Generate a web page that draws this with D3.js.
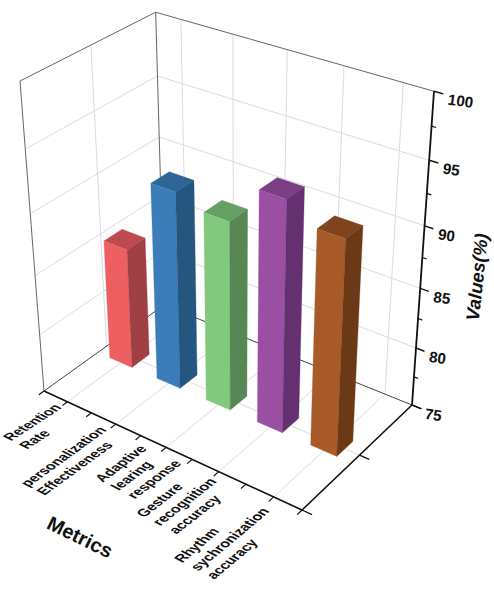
<!DOCTYPE html>
<html><head><meta charset="utf-8"><script src="https://cdn.jsdelivr.net/npm/d3@7"></script>
<style>html,body{margin:0;background:#fff}text{font-family:"Liberation Sans",Arial,sans-serif;font-weight:bold;fill:#111}</style></head><body><svg id="c" width="494" height="594"></svg>
<script>
const categories=["Retention Rate","personalization Effectiveness","Adaptive learing response","Gesture recognition accuracy","Rhythm sychronization accuracy"];
const categoryLines=[["Retention","Rate"],["personalization","Effectiveness"],["Adaptive","learing","response"],["Gesture","recognition","accuracy"],["Rhythm","sychronization","accuracy"]];
const values=[85.3,91.5,90.7,93.9,92.5];
const valueTicks=[75,80,85,90,95,100];
const minorValueTicks=[77.5,82.5,87.5,92.5,97.5];
const frontColors=["#EE5F62","#3A7DB8","#83C87F","#9A4FA3","#A85A28"];
const sideColors=["#A03F44","#24567F","#568755","#64306F","#6C3917"];
const topColors=["#BC4A50","#2C6596","#649F63","#7B3F85","#7F431D"];
const O=[44,391],Ex=[302,510],Ey=[164,305],F=[412,405],Ez=[20,81],T=[434,94];
const a=[Ex[0]-F[0],Ey[0]-F[0],O[0]-F[0]],b=[Ex[1]-F[1],Ey[1]-F[1],O[1]-F[1]];
const det=a[0]*b[1]-a[1]*b[0];
const wx=(a[2]*b[1]-a[1]*b[2])/det, wy=(a[0]*b[2]-a[2]*b[0])/det;
const wz=(F[0]*(wx+wy-1)-O[0]-T[0]*(wx+wy-2))/(T[0]-Ez[0]);
function P(u,v,z){const d=1+u*(wx-1)+v*(wy-1)+z*(wz-1);
 return [0,1].map(i=>(O[i]+u*(wx*Ex[i]-O[i])+v*(wy*Ey[i]-O[i])+z*(wz*Ez[i]-O[i]))/d);}
const svg=d3.select('#c');
const line=d3.line();
const zs=d3.scaleLinear().domain([75,100]).range([0,1]);
const us=d3.scaleBand().domain(categories).range([0,1]).paddingInner(0.525).paddingOuter(0.2625);
const seg=(pts,stroke,w)=>svg.append('path').attr('d',line(pts)).attr('fill','none').attr('stroke',stroke).attr('stroke-width',w);
const gridC='#dcdcdc';
valueTicks.slice(1,-1).forEach(t=>{const z=zs(t);seg([P(0,0,z),P(0,1,z),P(1,1,z)],gridC,1);});
categories.forEach(c=>{const u=us(c)+us.bandwidth()/2;seg([P(u,0,0),P(u,1,0),P(u,1,1)],gridC,1);});
seg([P(0,.5,1),P(0,.5,0),P(1,.5,0)],gridC,1);
seg([P(0,0,0),P(0,0,1),P(0,1,1),P(1,1,1)],'#666',1);
seg([P(0,1,1),P(0,1,0)],'#666',1);
seg([P(0,0,0),P(0,1,0),P(1,1,0)],'#444',1);
seg([P(0,0,0),P(1,0,0),P(1,1,0)],'#111',1.6);
seg([P(1,1,0),P(1,1,1)],'#111',1.8);
d3.range(0,11).forEach(i=>{const u=i/10;seg([P(u,0,0),P(u,-0.04,0)],'#111',1.2);});
[0,.5,1].forEach(v=>seg([P(1,v,0),P(1.035,v,0)],'#111',1.2));
valueTicks.forEach(t=>seg([P(1,1,zs(t)),P(1.03,1,zs(t))],'#111',1.4));
minorValueTicks.forEach(t=>seg([P(1,1,zs(t)),P(1.015,1,zs(t))],'#111',1.2));
valueTicks.forEach(t=>{const p=P(1.03,1,zs(t));
 svg.append('text').attr('transform',`translate(${p[0]+4},${p[1]+10.5}) rotate(8)`).attr('font-size',15.2).text(t);});
svg.append('text').attr('transform','translate(477,277) rotate(-84)').attr('text-anchor','middle').attr('dy','0.35em').attr('font-size',18.5).attr('font-style','italic').text('Values(%)');
svg.append('text').attr('transform','translate(80,537) rotate(26)').attr('text-anchor','middle').attr('dy','0.35em').attr('font-size',20).text('Metrics');
const labelShift=[[-61,37],[-92,61],[-68,33],[-79,44],[-96,64]];
const labelAngle=[33,36,37,38,40];
categories.forEach((c,i)=>{const u=us(c)+us.bandwidth()/2,p=P(u,0,0),L=categoryLines[i],r=labelAngle[i]*Math.PI/180;
 const g=svg.append('g').attr('transform',`matrix(${Math.cos(r)},${-Math.sin(r)},${.89*1.1},${.46*1.1},${p[0]+labelShift[i][0]},${p[1]+labelShift[i][1]})`);
 L.forEach((s,j)=>g.append('text').attr('x',0).attr('y',j*16.4).attr('dy','0.35em').attr('font-size',13.3).text(s));});
const dv=0.145;
categories.forEach((c,i)=>{const u0=us(c),u1=u0+us.bandwidth(),v0=.5-dv/2,v1=.5+dv/2,z=zs(values[i]);
 const poly=(pts,col)=>svg.append('path').attr('d',line(pts)+'Z').attr('fill',col).attr('stroke',col).attr('stroke-width',.3);
 poly([P(u0,v0,z),P(u1,v0,z),P(u1,v1,z),P(u0,v1,z)],topColors[i]);
 poly([P(u0,v0,0),P(u1,v0,0),P(u1,v0,z),P(u0,v0,z)],frontColors[i]);
 poly([P(u1,v0,0),P(u1,v1,0),P(u1,v1,z),P(u1,v0,z)],sideColors[i]);
});
</script></body></html>
